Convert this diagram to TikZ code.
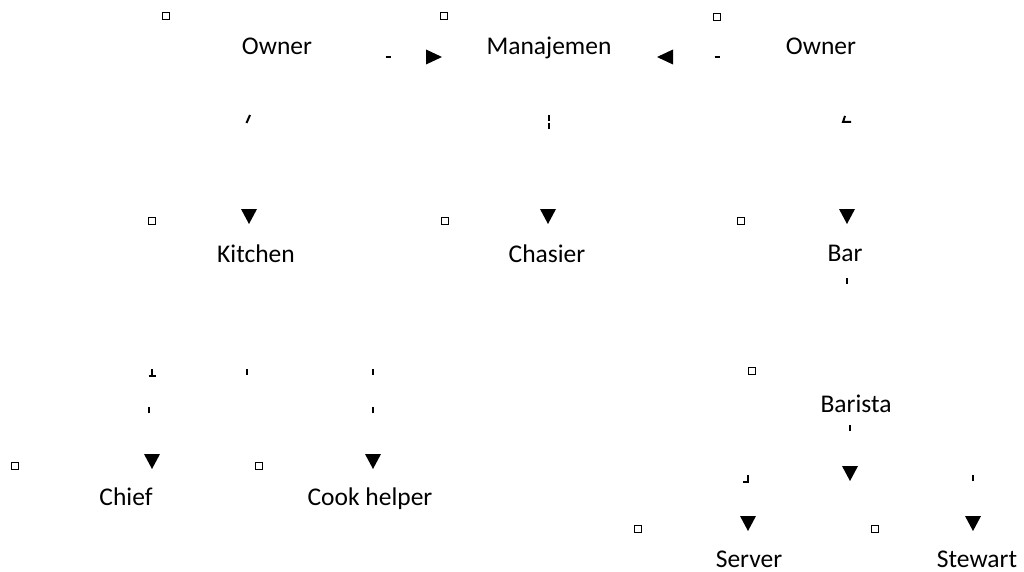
\documentclass[tikz,border=0pt]{standalone}
\usepackage{fontspec}
\setmainfont{Carlito}
\newcommand\tridown[2]{\fill (#1,#2) +(-8,-7) -- +(8,-7) -- +(0,8) -- cycle;}
\newcommand\triright[2]{\fill (#1,#2) +(-8,-7.5) -- +(-8,7.5) -- +(8,0) -- cycle;}
\newcommand\trileft[2]{\fill (#1,#2) +(8,-7.5) -- +(8,7.5) -- +(-8,0) -- cycle;}
\begin{document}
\begin{tikzpicture}[x=1pt,y=-1pt,
  lbl/.style={font=\fontsize{25.5}{30}\selectfont, inner sep=0pt, anchor=base},
  sq/.style={draw, line width=1.4pt, minimum size=6.5pt, inner sep=0pt},
  mk/.style={line width=2pt}]
\useasboundingbox[fill=white] (0,0) rectangle (1024,572);
% texts
\node[lbl] (owner1) at (277,55) {Owner};
\node[lbl] (manaj) at (549,55) {Manajemen};
\node[lbl] (owner2) at (821,55) {Owner};
\node[lbl] (kitchen) at (256,262) {Kitchen};
\node[lbl] (chasier) at (547,262) {Chasier};
\node[lbl] (bar) at (845,261) {Bar};
\node[lbl] (barista) at (856,412) {Barista};
\node[lbl] (chief) at (126,505) {Chief};
\node[lbl] (cook) at (370,505) {Cook helper};
\node[lbl] (server) at (749,567.5) {Server};
\node[lbl] (stewart) at (977,567.5) {Stewart};
% small squares
\node[sq] (s1) at (166,16) {};
\node[sq] (s2) at (444,16) {};
\node[sq] (s3) at (717,17) {};
\node[sq] (s4) at (152,221) {};
\node[sq] (s5) at (445,221) {};
\node[sq] (s6) at (741,221) {};
\node[sq] (s7) at (752,371) {};
\node[sq] (s8) at (15,466) {};
\node[sq] (s9) at (259,466) {};
\node[sq] (s10) at (638,529) {};
\node[sq] (s11) at (875,529) {};
% arrowheads
\triright{434}{57}
\trileft{665}{57}
\tridown{249}{216}
\tridown{548}{216}
\tridown{847}{216}
\tridown{152}{461}
\tridown{373}{461}
\tridown{850}{473}
\tridown{748}{523}
\tridown{973}{523}
% dashes
\draw[mk] (385.5,57) -- (390.5,57);
\draw[mk] (714.5,57) -- (719.5,57);
% ticks
\draw[mk] (246.5,123) -- (250,115);
\draw[mk] (549,115) -- (549,121);
\draw[mk] (549,123) -- (549,129);
\draw[mk] (845,116) -- (843,122) -- (851,122);
\draw[mk] (847,278) -- (847,284);
\draw[mk] (152,369) -- (152,375);
\draw[mk] (148.5,375.5) -- (155.5,375.5);
\draw[mk] (247,369) -- (247,375);
\draw[mk] (373,369) -- (373,375);
\draw[mk] (149,407) -- (149,413);
\draw[mk] (373,407) -- (373,413);
\draw[mk] (850,425) -- (850,431);
\draw[mk] (748,475) -- (748,482) -- (742.5,482);
\draw[mk] (973,475) -- (973,481);
\end{tikzpicture}
\end{document}
